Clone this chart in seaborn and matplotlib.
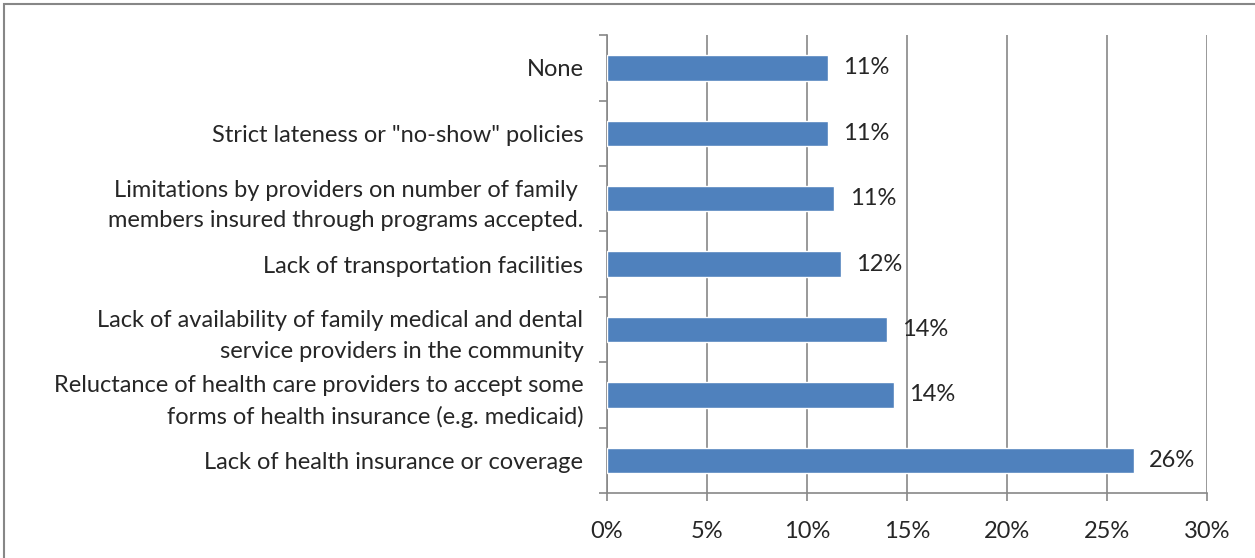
import matplotlib
matplotlib.use("Agg")
import matplotlib.pyplot as plt
import matplotlib.patches as mpatches
import seaborn as sns
import pandas as pd
from matplotlib.ticker import FuncFormatter

# data, top to bottom as in the chart
categories = [
    "None",
    'Strict lateness or "no-show" policies',
    "Limitations by providers on number of family \nmembers insured through programs accepted.",
    "Lack of transportation facilities",
    "Lack of availability of family medical and dental\nservice providers in the community",
    "Reluctance of health care providers to accept some\nforms of health insurance (e.g. medicaid)",
    "Lack of health insurance or coverage",
]
values = [11.03, 11.03, 11.36, 11.7, 14.0, 14.33, 26.35]
labels = ["11%", "11%", "11%", "12%", "14%", "14%", "26%"]

df = pd.DataFrame({"reason": categories, "pct": values})

sns.set_style("white")
plt.rcParams["font.family"] = ["Lato", "DejaVu Sans"]
fs = 17

fig = plt.figure(figsize=(12.55, 5.58), dpi=100)
ax = fig.add_axes([0.4837, 0.1165, 0.9618 - 0.4837, 0.937 - 0.1165])

sns.barplot(data=df, x="pct", y="reason", orient="h", color="#4F81BD",
            saturation=1, width=0.39, ax=ax, zorder=3)

ax.set_xlim(0, 30)
ax.set_ylim(len(categories) - 0.5, -0.5)
ax.set_xticks(range(0, 31, 5))
ax.xaxis.set_major_formatter(FuncFormatter(lambda v, p: f"{int(v)}%"))
ax.grid(axis="x", color="#878787", linewidth=1.2, zorder=0)
ax.set_axisbelow(True)
ax.set_xlabel("")
ax.set_ylabel("")

# y ticks at category boundaries, labels at centers
ax.set_yticks([i + 0.5 for i in range(-1, len(categories))], minor=False)
ax.set_yticklabels([])
ax.set_yticks(range(len(categories)), minor=True)
ax.set_yticklabels(categories, minor=True, fontsize=fs, ha="right", linespacing=1.55)
ax.tick_params(axis="y", which="minor", left=False, length=0, pad=17)
ax.tick_params(axis="y", which="major", left=True, length=6, width=1.2,
               color="#878787", direction="out")
ax.tick_params(axis="x", bottom=True, length=6, width=1.2, color="#878787",
               direction="out", labelsize=fs, pad=14)

for s in ["top", "right"]:
    ax.spines[s].set_visible(False)
for s in ["left", "bottom"]:
    ax.spines[s].set_color("#878787")
    ax.spines[s].set_linewidth(1.2)

for i, (v, lab) in enumerate(zip(values, labels)):
    ax.annotate(lab, (v, i), xytext=(11, 0), textcoords="offset points",
                va="center", ha="left", fontsize=fs)

# outer chart frame
fig.patches.append(mpatches.Rectangle((4 / 1255, -0.02), 1.1, 1 - 4 / 558 + 0.02,
                                      transform=fig.transFigure, fill=False,
                                      edgecolor="#878787", linewidth=1.5))

fig.savefig("out.png", dpi=100)
